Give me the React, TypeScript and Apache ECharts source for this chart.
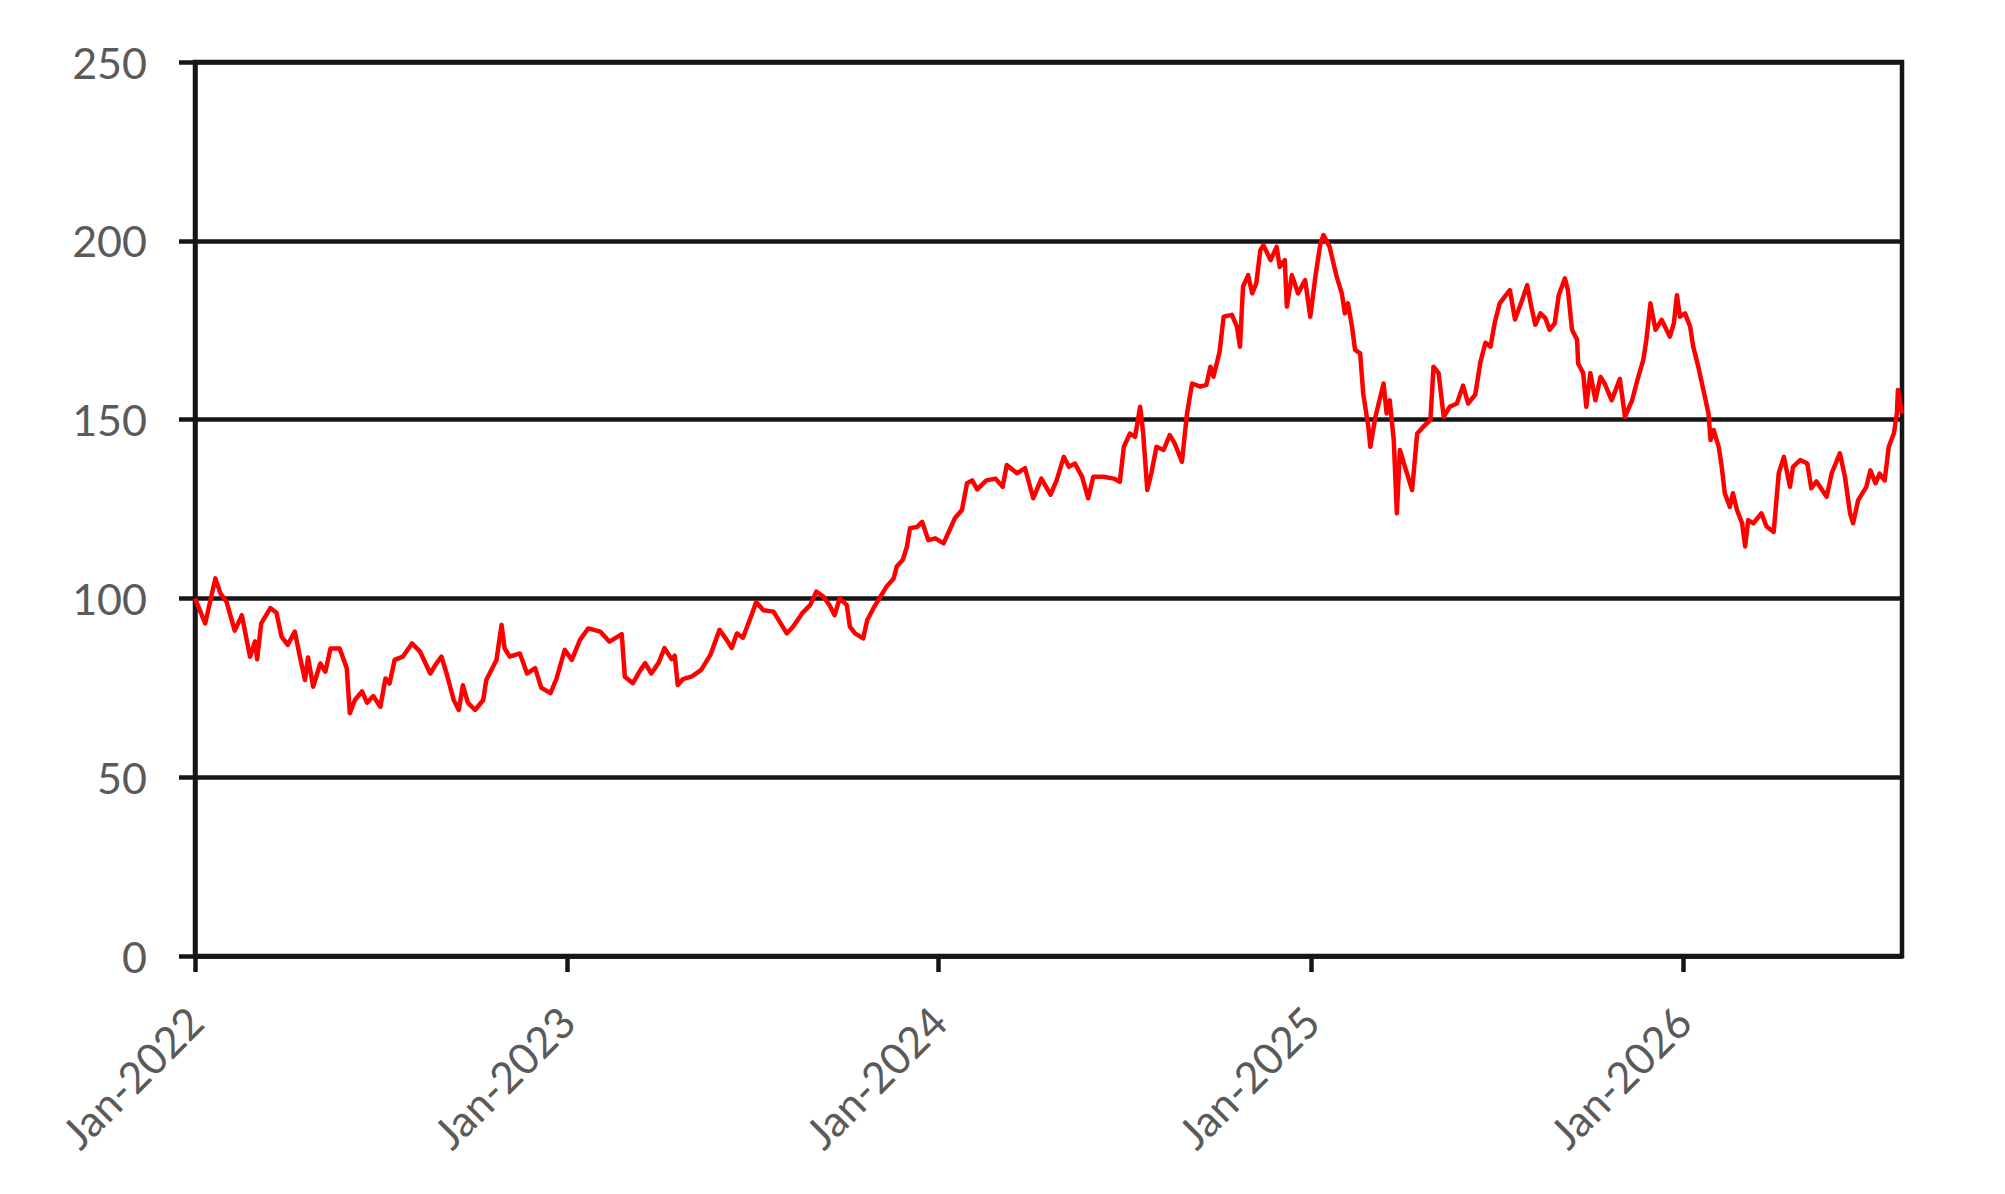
import React, { useEffect, useRef } from "react";
import * as echarts from "echarts";

const dates: string[] = [
  "2022-01-01","2022-01-11","2022-01-21","2022-01-26","2022-02-01","2022-02-09","2022-02-16","2022-02-24","2022-03-01","2022-03-03",
  "2022-03-07","2022-03-16","2022-03-22","2022-03-27","2022-04-02","2022-04-09","2022-04-14","2022-04-19","2022-04-22","2022-04-27",
  "2022-05-04","2022-05-09","2022-05-14","2022-05-23","2022-05-30","2022-06-02","2022-06-07","2022-06-14","2022-06-19","2022-06-25",
  "2022-07-02","2022-07-07","2022-07-11","2022-07-16","2022-07-24","2022-08-02","2022-08-10","2022-08-20","2022-08-26","2022-08-31",
  "2022-09-05","2022-09-12","2022-09-17","2022-09-21","2022-09-26","2022-10-03","2022-10-11","2022-10-14","2022-10-24","2022-10-29",
  "2022-11-01","2022-11-06","2022-11-16","2022-11-23","2022-12-01","2022-12-07","2022-12-16","2022-12-22","2022-12-30","2023-01-06",
  "2023-01-14","2023-01-22","2023-02-03","2023-02-12","2023-02-20","2023-02-24","2023-02-27","2023-03-07","2023-03-14","2023-03-19",
  "2023-03-25","2023-04-01","2023-04-07","2023-04-14","2023-04-17","2023-04-20","2023-04-25","2023-05-04","2023-05-13","2023-05-22",
  "2023-05-31","2023-06-07","2023-06-12","2023-06-17","2023-06-23","2023-07-02","2023-07-06","2023-07-13","2023-07-23","2023-07-29",
  "2023-08-05","2023-08-11","2023-08-20","2023-08-28","2023-09-03","2023-09-10","2023-09-16","2023-09-21","2023-09-26","2023-10-03",
  "2023-10-06","2023-10-11","2023-10-19","2023-10-23","2023-10-29","2023-11-05","2023-11-11","2023-11-18","2023-11-21","2023-11-27",
  "2023-12-01","2023-12-04","2023-12-11","2023-12-16","2023-12-22","2023-12-29","2024-01-06","2024-01-12","2024-01-17","2024-01-24",
  "2024-01-29","2024-02-03","2024-02-08","2024-02-17","2024-02-26","2024-03-04","2024-03-08","2024-03-18","2024-03-26","2024-04-03",
  "2024-04-11","2024-04-20","2024-04-26","2024-05-03","2024-05-08","2024-05-14","2024-05-21","2024-05-27","2024-06-01","2024-06-11",
  "2024-06-21","2024-06-27","2024-07-01","2024-07-07","2024-07-12","2024-07-17","2024-07-20","2024-07-24","2024-07-28","2024-08-02",
  "2024-08-09","2024-08-15","2024-08-20","2024-08-27","2024-09-01","2024-09-06","2024-09-14","2024-09-20","2024-09-24","2024-09-27",
  "2024-10-03","2024-10-07","2024-10-15","2024-10-20","2024-10-23","2024-10-26","2024-10-31","2024-11-04","2024-11-08","2024-11-12",
  "2024-11-15","2024-11-22","2024-11-28","2024-12-01","2024-12-06","2024-12-08","2024-12-13","2024-12-19","2024-12-26","2024-12-31",
  "2025-01-05","2025-01-10","2025-01-13","2025-01-19","2025-01-26","2025-01-31","2025-02-03","2025-02-06","2025-02-10","2025-02-13",
  "2025-02-18","2025-02-21","2025-02-26","2025-02-28","2025-03-05","2025-03-13","2025-03-16","2025-03-19","2025-03-23","2025-03-26",
  "2025-03-29","2025-04-03","2025-04-10","2025-04-15","2025-04-21","2025-04-28","2025-05-01","2025-05-06","2025-05-11","2025-05-17",
  "2025-05-24","2025-05-30","2025-06-04","2025-06-11","2025-06-16","2025-06-21","2025-06-26","2025-06-30","2025-07-05","2025-07-10",
  "2025-07-15","2025-07-20","2025-07-27","2025-08-01","2025-08-05","2025-08-09","2025-08-14","2025-08-19","2025-08-23","2025-08-28",
  "2025-09-01","2025-09-07","2025-09-10","2025-09-14","2025-09-19","2025-09-20","2025-09-25","2025-09-28","2025-10-02","2025-10-07",
  "2025-10-12","2025-10-16","2025-10-23","2025-10-31","2025-11-05","2025-11-12","2025-11-18","2025-11-23","2025-11-26","2025-11-30",
  "2025-12-05","2025-12-11","2025-12-19","2025-12-23","2025-12-26","2025-12-29","2026-01-03","2026-01-08","2026-01-11","2026-01-16",
  "2026-01-21","2026-01-26","2026-01-28","2026-01-31","2026-02-05","2026-02-08","2026-02-11","2026-02-16","2026-02-19","2026-02-23",
  "2026-02-28","2026-03-03","2026-03-06","2026-03-11","2026-03-19","2026-03-24","2026-03-31","2026-04-05","2026-04-10","2026-04-16",
  "2026-04-19","2026-04-26","2026-05-03","2026-05-07","2026-05-12","2026-05-22","2026-05-27","2026-06-04","2026-06-09","2026-06-14",
  "2026-06-17","2026-06-22","2026-06-30","2026-07-04","2026-07-09","2026-07-13","2026-07-18","2026-07-22","2026-07-27","2026-07-30",
  "2026-07-31","2026-08-04"
];

const values: number[] = [
  100,93,105.6,101.4,99,91,95.3,83.7,88,83,
  93,97.3,96,89.3,87,90.7,83.7,77.2,83.5,75.3,
  81.8,79.5,86,86,80.5,67.9,71.6,74,70.8,72.7,
  69.7,77.6,76.2,82.8,83.7,87.4,85.1,79,81.8,83.7,
  79,71.6,68.8,75.7,70.8,68.8,71.6,77.2,82.8,92.6,
  86,83.7,84.6,79,80.5,75,73.5,77.6,85.6,82.8,
  88.4,91.6,90.7,87.9,89.3,90,78.1,76.3,79.8,81.9,
  79,81.9,86.1,83,84,75.8,77.4,78.2,80,84.2,
  91.2,88.4,86.1,90.2,89,95.8,99,96.7,96.3,93.5,
  90.2,92,95.8,98.1,101.9,100.5,98.1,95.3,100,98.1,
  92.1,90.2,88.8,93.9,97.2,100.5,103.3,105.6,108.9,110.8,
  114.5,119.6,120,121.4,116.3,116.8,115.4,119.2,122.4,124.7,
  132.2,133,130.5,133,133.5,131.2,137.3,135,136.4,128,
  133.5,129,133,139.6,136.8,137.7,134,128,134,134,
  133.5,132.6,142.4,146.1,145.2,153.6,146.1,130.3,135,142.4,
  141.5,145.7,143.3,138.2,151.7,160.1,159.2,159.7,164.8,162,
  169,178.8,179.3,176,170.4,187.2,190.4,185.3,188.1,197.4,
  198.8,194.6,198.3,192.7,194.6,181.6,190.4,185.3,189,178.8,
  189.9,199.3,201.6,198.3,189.9,185.3,179.7,182.5,176,169.5,
  168.5,157.3,148,142.4,150.8,160.1,151.7,155.4,144.3,123.8,
  141.5,136.8,130.3,146.1,148,149.9,164.8,163,150.8,153.6,
  154.5,159.5,154.5,157,166,171.5,170.4,176.9,182.5,184.4,
  186.2,178,183.4,187.6,181.6,176.5,179.7,178.3,175.1,176.9,
  184.8,189.5,186.2,175.1,172.3,165.7,163,153.6,163,155.4,
  161.9,160.1,155.4,161.4,150.8,155.4,161.9,166.7,172.3,182.5,
  175.1,177.9,173.2,176.9,184.8,178.8,179.7,176,170.4,164.8,
  158.3,151.7,144.3,147.1,142.4,136.8,129.4,125.6,129.4,124.7,
  121,114.5,121.9,121,123.8,120.1,118.6,135,139.6,131.2,
  136.8,138.7,137.7,130.8,132.7,128.4,135,140.6,134,123.8,
  121,127.5,131.2,135.8,132.2,134.9,133,142.4,146.1,151.7,
  158.3,151.7
];

const yearTicks: number[] = [2022, 2023, 2024, 2025, 2026];
const xStart = "2022-01-01";
const xEnd = "2026-08-04";
const yMin = 0;
const yMax = 250;
const yStep = 50;

function toTime(s: string): number {
  const [y, m, d] = s.split("-").map(Number);
  return Date.UTC(y, m - 1, d);
}

export default function App() {
  const ref = useRef<HTMLDivElement>(null);
  useEffect(() => {
    if (!ref.current) return;
    const chart = echarts.init(ref.current, undefined, { renderer: "svg" });
    const tickTimes = yearTicks.map((y) => Date.UTC(y, 0, 1));
    const font = "Lato, 'Open Sans', sans-serif";
    const lineColor = "#161616";
    const lw = 4.5;
    chart.setOption({
      animation: false,
      backgroundColor: "#ffffff",
      grid: {
        left: 195,
        right: 103,
        top: 62,
        bottom: 238,
        show: true,
        borderColor: lineColor,
        borderWidth: lw,
        backgroundColor: "transparent",
      },
      xAxis: {
        type: "value",
        min: toTime(xStart),
        max: toTime(xEnd),
        axisLine: { show: true, onZero: false, lineStyle: { color: lineColor, width: lw } },
        axisTick: {
          show: true,
          customValues: tickTimes,
          length: 16,
          lineStyle: { color: lineColor, width: lw },
        },
        axisLabel: {
          show: true,
          customValues: tickTimes,
          rotate: 45,
          margin: 58,
          fontSize: 43,
          fontFamily: font,
          color: "#5a5a5a",
          formatter: (v: number) => "Jan-" + new Date(v).getUTCFullYear(),
        },
        splitLine: { show: false },
      },
      yAxis: {
        type: "value",
        min: yMin,
        max: yMax,
        interval: yStep,
        axisLine: { show: true, lineStyle: { color: lineColor, width: lw } },
        axisTick: { show: true, length: 16, lineStyle: { color: lineColor, width: lw } },
        axisLabel: {
          margin: 48,
          fontSize: 43,
          fontFamily: font,
          color: "#5a5a5a",
        },
        splitLine: { show: true, lineStyle: { color: lineColor, width: lw } },
      },
      series: [
        {
          type: "line",
          data: dates.map((d, i) => [toTime(d), values[i]]),
          showSymbol: false,
          symbol: "none",
          lineStyle: { color: "#ff0000", width: 4.5, join: "round" },
          z: 3,
        },
      ],
    });
    return () => chart.dispose();
  }, []);
  return (
    <div
      ref={ref}
      style={{ position: "fixed", left: 0, top: 0, width: 2005, height: 1194, background: "#fff" }}
    />
  );
}
